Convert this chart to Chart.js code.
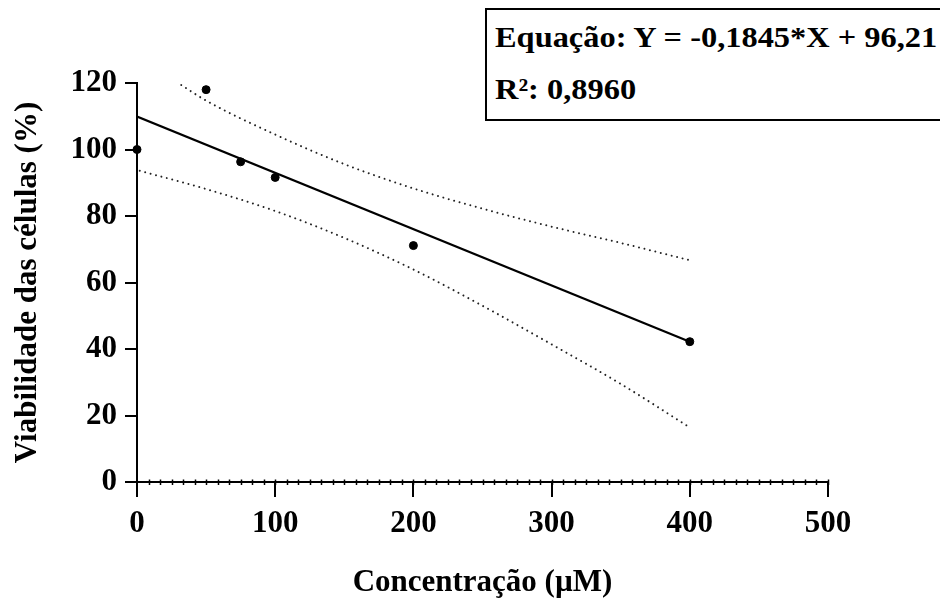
<!DOCTYPE html>
<html>
<head>
<meta charset="utf-8">
<script src="https://cdn.jsdelivr.net/npm/chart.js@4.4.1/dist/chart.umd.min.js"></script>
<style>
  html, body { margin: 0; padding: 0; background: #fff; overflow: hidden; }
  #wrap { position: relative; width: 940px; height: 603px; }
  #eqBox {
    position: absolute; left: 485px; top: 8px; width: 470px; height: 109px;
    border: 2.5px solid #000; background: #fff;
    font-family: "Liberation Serif", "Times New Roman", serif; font-weight: bold; font-size: 30px; color: #000;
  }
  #eqBox div { position: absolute; left: 8px; white-space: nowrap; transform: scaleX(1.08); transform-origin: left center; }
</style>
</head>
<body>
<div id="wrap">
  <canvas id="myChart" width="940" height="603"></canvas>
  <div id="eqBox">
    <div style="top: 10px;">Equação: Y = -0,1845*X + 96,21</div>
    <div style="top: 62px;">R²: 0,8960</div>
  </div>
</div>
<script>
// measured points
var concentracao = [0, 50, 75, 100, 200, 400];
var viabilidade = [100, 118, 96.3, 91.6, 71.1, 42.2];

// fitted line as drawn
var ajusteX = [0, 400];
var ajusteY = [109.9, 42.2];

// confidence band (dotted)
var faixaSupX = [32, 50, 100, 150, 200, 250, 300, 350, 400];
var faixaSupY = [119.4, 114.7, 104.5, 95.6, 88.3, 82.2, 76.8, 71.9, 66.7];
var faixaInfX = [2, 50, 100, 150, 200, 250, 300, 350, 400];
var faixaInfY = [93.6, 88.1, 81.5, 73.4, 63.9, 53.0, 41.4, 29.5, 16.4];

// axis ticks
var xTicks = [0, 100, 200, 300, 400, 500];
var yTicks = [0, 20, 40, 60, 80, 100, 120];
var xMinorStep = 100 / 12;

function pts(xs, ys) {
  return xs.map(function (x, i) { return { x: x, y: ys[i] }; });
}

var fontFam = '"Liberation Serif", "Times New Roman", serif';

// small minor ticks along the x axis
var minorTicks = {
  id: 'minorTicks',
  afterDraw: function (chart) {
    var ctx = chart.ctx;
    var sx = chart.scales.x;
    var y0 = chart.chartArea.bottom;
    ctx.save();
    ctx.strokeStyle = '#000';
    ctx.lineWidth = 1.5;
    for (var v = xMinorStep; v < xTicks[xTicks.length - 1]; v += xMinorStep) {
      var px = Math.round(sx.getPixelForValue(v)) + 0.5;
      ctx.beginPath();
      ctx.moveTo(px, y0 - 2.5);
      ctx.lineTo(px, y0 + 3);
      ctx.stroke();
    }
    ctx.restore();
  }
};

var ctx = document.getElementById('myChart').getContext('2d');
new Chart(ctx, {
  type: 'scatter',
  data: {
    datasets: [
      {
        label: 'IC superior',
        type: 'line',
        data: pts(faixaSupX, faixaSupY),
        borderColor: '#222',
        borderWidth: 2,
        borderDash: [0.01, 5.6],
        borderCapStyle: 'round',
        cubicInterpolationMode: 'monotone',
        pointRadius: 0,
        fill: false
      },
      {
        label: 'IC inferior',
        type: 'line',
        data: pts(faixaInfX, faixaInfY),
        borderColor: '#222',
        borderWidth: 2,
        borderDash: [0.01, 5.6],
        borderCapStyle: 'round',
        cubicInterpolationMode: 'monotone',
        pointRadius: 0,
        fill: false
      },
      {
        label: 'Ajuste',
        type: 'line',
        data: pts(ajusteX, ajusteY),
        borderColor: '#000',
        borderWidth: 2.2,
        pointRadius: 0,
        fill: false
      },
      {
        label: 'Viabilidade',
        data: pts(concentracao, viabilidade),
        backgroundColor: '#000',
        borderColor: '#000',
        pointRadius: 4,
        clip: false
      }
    ]
  },
  options: {
    responsive: false,
    animation: false,
    layout: { padding: { top: 83, right: 112, left: 0, bottom: 0 } },
    plugins: {
      legend: { display: false },
      tooltip: { enabled: false }
    },
    scales: {
      x: {
        type: 'linear',
        min: 0,
        max: 500,
        afterFit: function (s) { s.height = 121; },
        afterBuildTicks: function (s) { s.ticks = xTicks.map(function (v) { return { value: v }; }); },
        border: { display: true, color: '#000', width: 2 },
        grid: { drawOnChartArea: false, drawTicks: true, tickLength: 15, color: '#000', lineWidth: 2 },
        ticks: {
          color: '#000',
          padding: 8,
          maxRotation: 0,
          font: { family: fontFam, weight: 'bold', size: 31 }
        },
        title: {
          display: true,
          text: 'Concentração (µM)',
          color: '#000',
          padding: { top: 0, bottom: 1 },
          font: { family: fontFam, weight: 'bold', size: 31 }
        }
      },
      y: {
        type: 'linear',
        min: 0,
        max: 120,
        afterFit: function (s) { s.width = 137; },
        afterBuildTicks: function (s) { s.ticks = yTicks.map(function (v) { return { value: v }; }); },
        border: { display: true, color: '#000', width: 2 },
        grid: { drawOnChartArea: false, drawTicks: true, tickLength: 12, color: '#000', lineWidth: 2 },
        ticks: {
          color: '#000',
          padding: 8,
          font: { family: fontFam, weight: 'bold', size: 31 }
        },
        title: {
          display: true,
          text: 'Viabilidade das células (%)',
          color: '#000',
          padding: { top: 9, bottom: 0 },
          font: { family: fontFam, weight: 'bold', size: 31 }
        }
      }
    }
  },
  plugins: [minorTicks]
});
</script>
</body>
</html>
